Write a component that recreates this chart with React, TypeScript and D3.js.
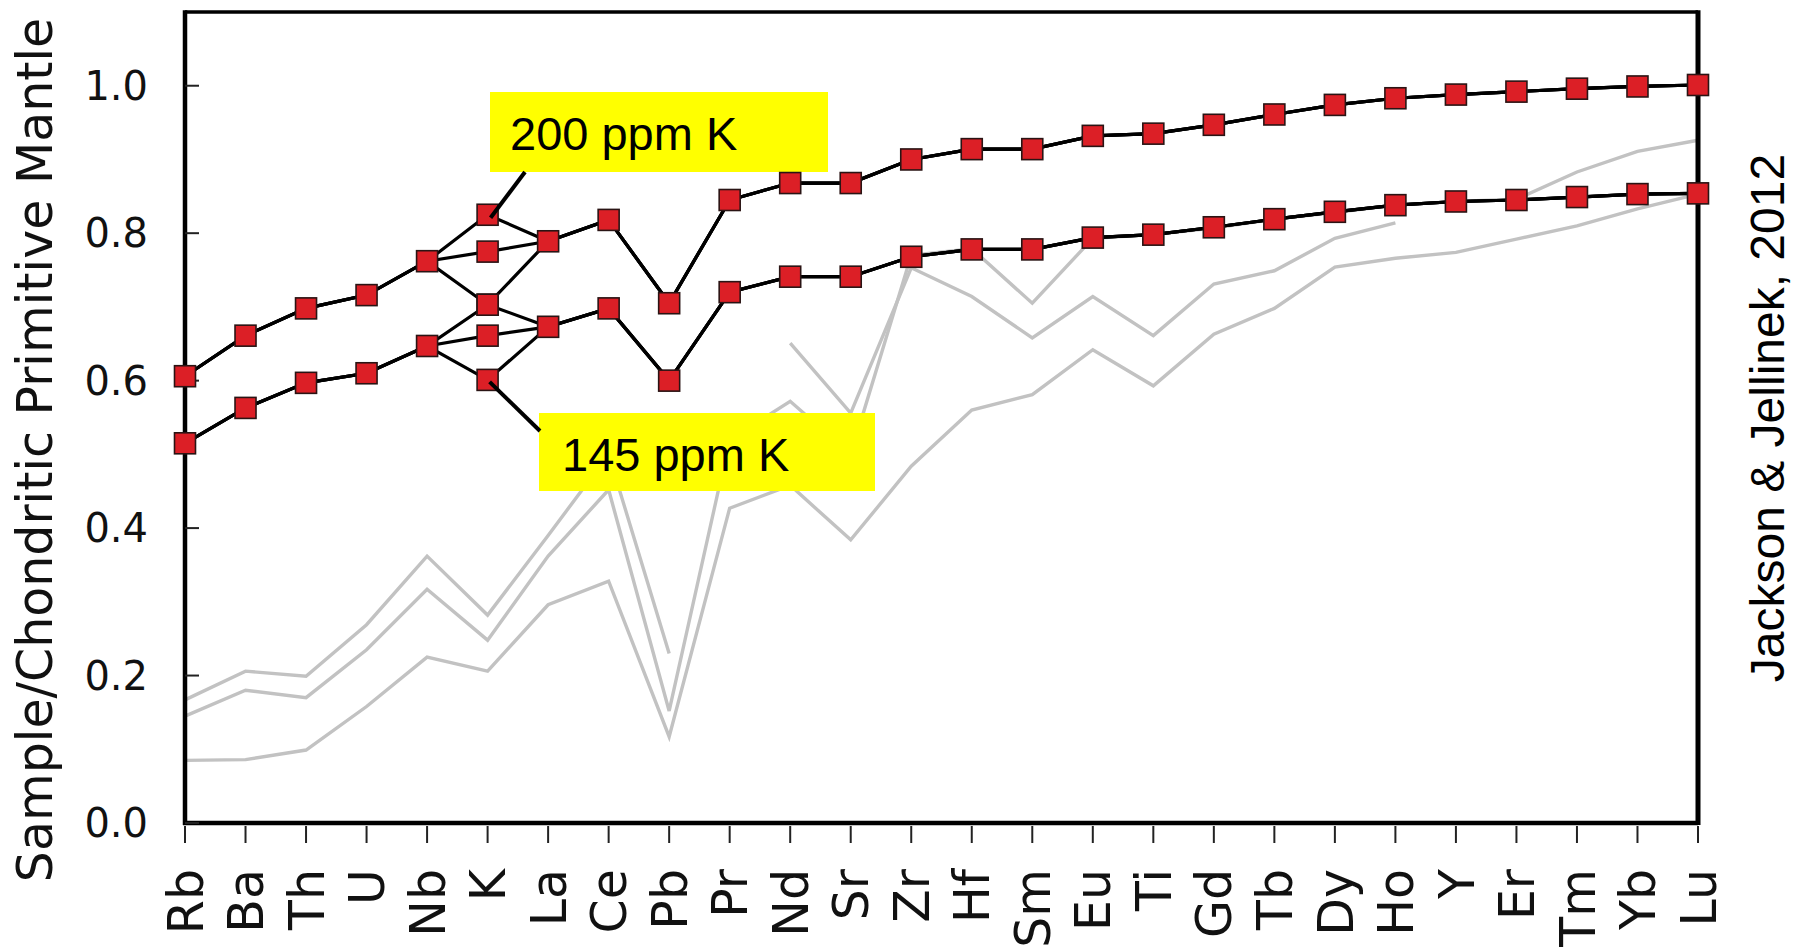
import * as d3 from "d3";

// element order on the x axis
const elements = [
  "Rb", "Ba", "Th", "U", "Nb", "K", "La", "Ce", "Pb", "Pr", "Nd", "Sr", "Zr",
  "Hf", "Sm", "Eu", "Ti", "Gd", "Tb", "Dy", "Ho", "Y", "Er", "Tm", "Yb", "Lu",
];

const yTicks = [0, 0.2, 0.4, 0.6, 0.8, 1.0];

// black curves with red squares
const upper = [
  0.606, 0.661, 0.698, 0.716, 0.762, 0.825, 0.789, 0.818, 0.705, 0.845, 0.868, 0.868, 0.900,
  0.914, 0.914, 0.932, 0.935, 0.947, 0.961, 0.974, 0.983, 0.988, 0.992, 0.996, 0.999, 1.001,
];
const lower = [
  0.515, 0.563, 0.597, 0.610, 0.647, 0.601, 0.673, 0.698, 0.600, 0.720, 0.741, 0.741, 0.768,
  0.778, 0.778, 0.794, 0.798, 0.808, 0.819, 0.829, 0.838, 0.843, 0.845, 0.849, 0.853, 0.854,
];
// the alternative K values drawn on each curve
const upperK = [0.825, 0.775, 0.703];
const lowerK = [0.703, 0.661, 0.601];

// grey background patterns (null = no value)
const greyA = [
  0.167, 0.206, 0.199, 0.269, 0.362, 0.282, 0.39, 0.50, 0.230, null, 0.651, 0.556, 0.753,
  0.714, 0.658, 0.714, 0.661, 0.731, 0.749, 0.793, 0.814, null, null, null, null, null,
];
const greyB = [
  0.145, 0.180, 0.170, 0.235, 0.317, 0.248, 0.362, 0.452, 0.152, 0.52, 0.572, 0.50, 0.77,
  0.779, 0.705, 0.793, 0.798, 0.807, 0.819, 0.828, 0.838, 0.843, 0.846, 0.883, 0.911, 0.926,
];
const greyC = [
  0.085, 0.086, 0.099, 0.158, 0.225, 0.206, 0.296, 0.328, 0.117, 0.427, 0.458, 0.384, 0.484,
  0.560, 0.581, 0.642, 0.593, 0.663, 0.698, 0.754, 0.766, 0.774, 0.792, 0.810, 0.833, 0.853,
];
const greys = [greyA, greyB, greyC];

const W = 1798;
const H = 951;
const left = 185;
const right = 1698;
const top = 12;
const bottom = 823;

const kIndex = elements.indexOf("K");

export default function App() {
  const x = d3.scalePoint<string>().domain(elements).range([left, right]);
  const y = d3.scaleLinear().domain([0, 1.1]).range([bottom, top]);

  const line = d3
    .line<number | null>()
    .defined((d) => d != null)
    .x((_, i) => x(elements[i]) as number)
    .y((d) => y(d as number));

  const withK = (arr: number[], k: number) => arr.map((v, i) => (i === kIndex ? k : v));
  const blackLines = [
    ...upperK.map((k) => withK(upper, k)),
    ...lowerK.map((k) => withK(lower, k)),
  ];

  const squares: { e: string; v: number }[] = [];
  [upper, lower].forEach((arr) =>
    arr.forEach((v, i) => {
      if (i !== kIndex) squares.push({ e: elements[i], v });
    })
  );
  [...upperK, ...lowerK].forEach((v) => squares.push({ e: "K", v }));

  const sq = 21;
  const xK = x("K") as number;

  return (
    <svg
      width={W}
      height={H}
      style={{ position: "absolute", left: 0, top: 0, background: "#fff" }}
    >
      {/* grey curves */}
      {greys.map((g, i) => (
        <path key={i} d={line(g) || ""} fill="none" stroke="#c2c2c2" strokeWidth={3.4} strokeLinejoin="miter" />
      ))}

      {/* labels */}
      <rect x={490} y={92} width={338} height={80} fill="#ffff00" />
      <text x={510} y={150} fontFamily="Liberation Sans, Arial, sans-serif" fontSize={47} fill="#000">
        200 ppm K
      </text>
      <rect x={539} y={413} width={336} height={78} fill="#ffff00" />
      <text x={562} y={471} fontFamily="Liberation Sans, Arial, sans-serif" fontSize={47} fill="#000">
        145 ppm K
      </text>

      {/* frame */}
      <line x1={left} y1={top} x2={right} y2={top} stroke="#000" strokeWidth={3.5} />
      <line x1={right} y1={top - 1.75} x2={right} y2={bottom + 2} stroke="#000" strokeWidth={5} />
      <line x1={left} y1={top - 1.75} x2={left} y2={bottom + 2} stroke="#000" strokeWidth={4.5} />
      <line x1={left - 2} y1={bottom} x2={right} y2={bottom} stroke="#000" strokeWidth={4.5} />

      {/* y ticks */}
      {yTicks.map((t) => (
        <g key={t}>
          <line x1={left} x2={left + 14} y1={y(t)} y2={y(t)} stroke="#222" strokeWidth={2} />
          <text
            x={148}
            y={y(t)}
            textAnchor="end"
            dominantBaseline="central"
            fontFamily="DejaVu Sans, Verdana, sans-serif"
            fontSize={40}
            fill="#111"
          >
            {t.toFixed(1)}
          </text>
        </g>
      ))}

      {/* x ticks */}
      {elements.map((e) => (
        <g key={e}>
          <line x1={x(e)} x2={x(e)} y1={826} y2={843} stroke="#222" strokeWidth={2} />
          <text
            transform={`translate(${x(e)},869) rotate(-90)`}
            textAnchor="end"
            dy="0.36em"
            fontFamily="DejaVu Sans, Verdana, sans-serif"
            fontSize={49}
            fill="#111"
          >
            {e}
          </text>
        </g>
      ))}

      {/* black curves */}
      {blackLines.map((b, i) => (
        <path key={i} d={line(b) || ""} fill="none" stroke="#000" strokeWidth={3.2} />
      ))}

      {/* squares */}
      {squares.map((s, i) => (
        <rect
          key={i}
          x={(x(s.e) as number) - sq / 2}
          y={y(s.v) - sq / 2}
          width={sq}
          height={sq}
          fill="#dc1f26"
          stroke="#2a1414"
          strokeWidth={1.6}
        />
      ))}

      {/* leaders */}
      <line x1={525} y1={172} x2={xK + 3} y2={y(upperK[0]) + 3} stroke="#000" strokeWidth={4} />
      <line x1={xK + 2} y1={y(lowerK[2]) + 2} x2={540} y2={431} stroke="#000" strokeWidth={4} />

      {/* axis title */}
      <text
        transform="translate(52,450) rotate(-90)"
        textAnchor="middle"
        fontFamily="DejaVu Sans, Verdana, sans-serif"
        fontSize={49}
        fill="#111"
      >
        Sample/Chondritic Primitive Mantle
      </text>

      {/* credit */}
      <text
        transform="translate(1784,418) rotate(-90)"
        textAnchor="middle"
        fontFamily="Liberation Sans, Arial, sans-serif"
        fontSize={48}
        fill="#000"
      >
        Jackson &amp; Jellinek, 2012
      </text>
    </svg>
  );
}
